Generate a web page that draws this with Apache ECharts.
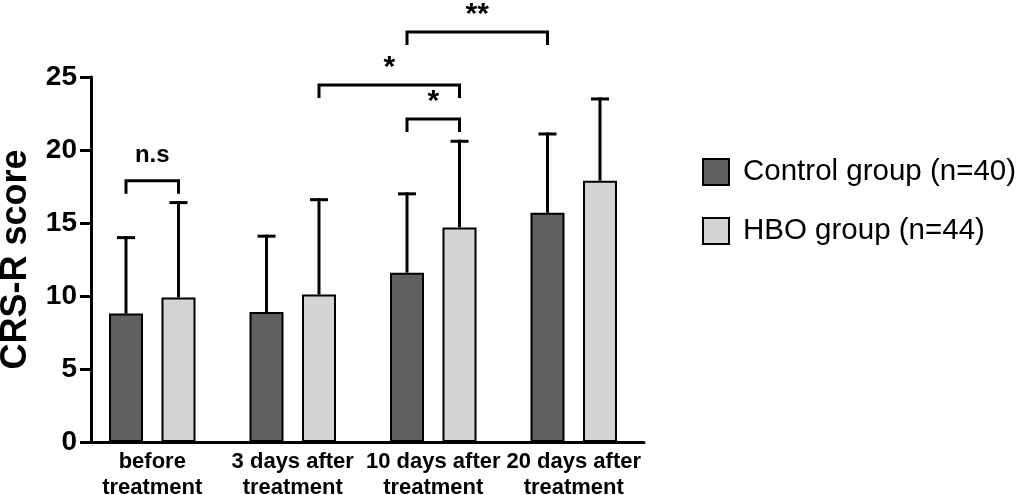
<!DOCTYPE html>
<html>
<head>
<meta charset="utf-8">
<script src="https://cdn.jsdelivr.net/npm/echarts@6/dist/echarts.min.js"></script>
<style>
html,body{margin:0;padding:0;background:#fff;}
#c{width:1021px;height:495px;}
</style>
</head>
<body>
<div id="c"></div>
<script>
// ---- data ----
const categories = ['before\ntreatment', '3 days after\ntreatment', '10 days after\ntreatment', '20 days after\ntreatment'];
const seriesNames = ['Control group (n=40)', 'HBO group (n=44)'];
const controlMean = [8.8, 8.9, 11.6, 15.7];
const controlSD   = [5.3, 5.3, 5.5, 5.5];
const hboMean     = [9.9, 10.1, 14.7, 17.9];
const hboSD       = [6.6, 6.6, 6.0, 5.7];
const yTicks = [0, 5, 10, 15, 20, 25];
// significance brackets: [catA, seriesA, catB, seriesB, bracketY, legY]
const brackets = [
  [0, 0, 0, 1, 17.9, 17.0],
  [1, 1, 2, 1, 24.45, 23.56],
  [2, 0, 2, 1, 22.12, 21.23],
  [2, 0, 3, 0, 28.08, 27.19]
];
const bracketLabels = ['n.s', '*', '*', '**'];

// ---- styles ----
const FONT = "'Liberation Sans', Arial, Helvetica, sans-serif";
const BAR_W = 34;
const BAR_GAP = 0.544;
const OFF = (BAR_W * (1 + BAR_GAP)) / 2;
const CAP = 9;

const chart = echarts.init(document.getElementById('c'), null, {renderer: 'canvas'});

function errData(mean, sd) {
  return mean.map((m, i) => [i, m, +(m + sd[i]).toFixed(2)]);
}

function errSeries(name, data, sIdx) {
  return {
    type: 'custom',
    name: name,
    data: data,
    encode: {x: 0, y: [1, 2]},
    z: 1,
    silent: true,
    renderItem: function (params, api) {
      const base = api.coord([api.value(0), api.value(1)]);
      const top = api.coord([api.value(0), api.value(2)]);
      const x = base[0] + (sIdx === 0 ? -OFF : OFF);
      const st = {stroke: '#000', lineWidth: 3};
      return {
        type: 'group',
        children: [
          {type: 'line', shape: {x1: x, y1: base[1], x2: x, y2: top[1]}, style: st},
          {type: 'line', shape: {x1: x - CAP, y1: top[1] + 1.5, x2: x + CAP, y2: top[1] + 1.5}, style: st}
        ]
      };
    }
  };
}

const bracketSeries = {
  type: 'custom',
  name: 'brackets',
  data: brackets,
  encode: {x: 0, y: 4},
  z: 5,
  silent: true,
  clip: false,
  renderItem: function (params, api) {
    const a = api.coord([api.value(0), api.value(4)]);
    const b = api.coord([api.value(2), api.value(4)]);
    const leg = api.coord([api.value(0), api.value(5)]);
    const xa = a[0] + (api.value(1) === 0 ? -OFF : OFF);
    const xb = b[0] + (api.value(3) === 0 ? -OFF : OFF);
    const y = a[1];
    const yl = leg[1];
    const lbl = bracketLabels[params.dataIndex];
    const isNs = lbl === 'n.s';
    return {
      type: 'group',
      children: [
        {type: 'polyline', shape: {points: [[xa, yl], [xa, y], [xb, y], [xb, yl]]},
         style: {stroke: '#000', lineWidth: 3, fill: null}},
        {type: 'text', x: (xa + xb) / 2, y: isNs ? y - 25 : y - 17,
         style: {text: lbl, fill: '#000', align: 'center', verticalAlign: 'middle',
                 font: isNs ? "bold 24px " + FONT : "bold 30px " + FONT}}
      ]
    };
  }
};

const option = {
  animation: false,
  backgroundColor: '#fff',
  textStyle: {fontFamily: FONT},
  grid: {left: 82, right: 377, top: 77, bottom: 53, containLabel: false, outerBoundsMode: 'none'},
  legend: {
    data: seriesNames,
    orient: 'vertical',
    left: 697,
    top: 152,
    itemWidth: 26,
    itemHeight: 26,
    itemGap: 29,
    icon: 'rect',
    selectedMode: false,
    textStyle: {fontSize: 29.5, color: '#000', fontFamily: FONT, padding: [0, 0, 0, 9]}
  },
  xAxis: {
    type: 'category',
    data: categories,
    axisLine: {lineStyle: {color: '#000', width: 3}},
    axisTick: {show: false},
    axisLabel: {interval: 0, color: '#000', fontSize: 22, fontWeight: 'bold', lineHeight: 26, margin: 7, fontFamily: FONT}
  },
  yAxis: {
    type: 'value',
    min: yTicks[0],
    max: yTicks[yTicks.length - 1],
    interval: 5,
    offset: -9,
    name: 'CRS-R score',
    nameLocation: 'middle',
    nameGap: 57,
    nameTextStyle: {fontSize: 36, fontWeight: 'bold', color: '#000', fontFamily: FONT},
    axisLine: {show: true, lineStyle: {color: '#000', width: 3}},
    axisTick: {show: true, length: 11, lineStyle: {color: '#000', width: 3}},
    axisLabel: {color: '#000', fontSize: 28, fontWeight: 'bold', margin: 14, fontFamily: FONT},
    splitLine: {show: false}
  },
  series: [
    {
      type: 'bar', name: seriesNames[0], data: controlMean,
      barWidth: BAR_W, barGap: (BAR_GAP * 100) + '%', z: 3,
      itemStyle: {color: '#606060', borderColor: '#000', borderWidth: 2}
    },
    {
      type: 'bar', name: seriesNames[1], data: hboMean,
      barWidth: BAR_W, barGap: (BAR_GAP * 100) + '%', z: 3,
      itemStyle: {color: '#d4d4d4', borderColor: '#000', borderWidth: 2}
    },
    errSeries('errC', errData(controlMean, controlSD), 0),
    errSeries('errH', errData(hboMean, hboSD), 1),
    bracketSeries
  ]
};
chart.setOption(option);
</script>
</body>
</html>
